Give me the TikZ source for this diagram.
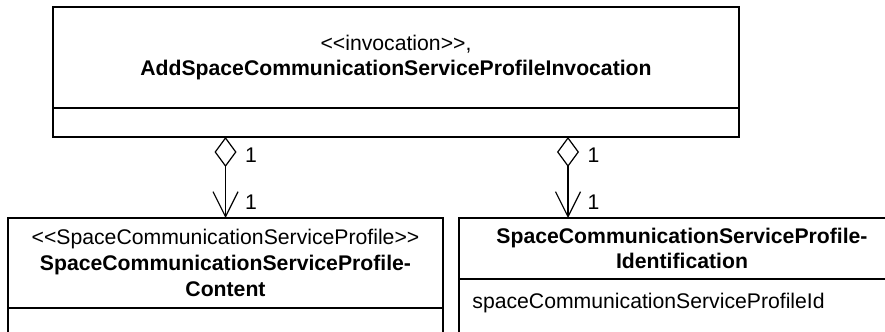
\documentclass[tikz,border=0pt]{standalone}
\usepackage{fontspec}
\setmainfont{Liberation Sans}
\usetikzlibrary{arrows.meta,positioning}
\newcommand{\stereo}[1]{\textless\kern0pt\textless #1\textgreater\kern0pt\textgreater}
\tikzset{
  classbox/.style={draw,line width=0.6pt,outer sep=0pt,inner sep=2pt,align=center,
    font=\fontsize{10.6}{12.8}\selectfont},
  attrtext/.style={inner sep=0pt,font=\fontsize{10.6}{12.8}\selectfont},
  multlabel/.style={inner sep=0pt,font=\fontsize{10.6}{12.8}\selectfont},
  aggregation/.style={line width=0.6pt,
    {Diamond[open,length=15pt,width=11pt,line width=0.6pt]}-{Straight Barb[length=12.5pt,width=12.5pt,line width=0.6pt]}}
}

\begin{document}
\begin{tikzpicture}[x=0.5pt,y=-0.5pt]
  \useasboundingbox (0,0) rectangle (885,332);
  \clip (0,0) rectangle (885,332);
  % invocation class
  \node[classbox,anchor=north west,minimum width=343pt,minimum height=50.5pt] (inv) at (53,7)
    {\stereo{invocation},\\\textbf{AddSpaceCommunicationServiceProfileInvocation}};
  \node[classbox,below=0pt of inv,minimum width=343pt,minimum height=14.5pt] (invattr) {};
  % content class
  \node[classbox,anchor=north west,minimum width=217.5pt,minimum height=45pt] (content) at (8,218)
    {\stereo{SpaceCommunicationServiceProfile}\\\textbf{SpaceCommunicationServiceProfile-}\\\textbf{Content}};
  \node[classbox,below=0pt of content,minimum width=217.5pt,minimum height=30pt] (contentattr) {};
  % identification class
  \node[classbox,anchor=north west,minimum width=223pt,minimum height=30.5pt] (ident) at (459,218)
    {\textbf{SpaceCommunicationServiceProfile-}\\\textbf{Identification}};
  \node[classbox,below=0pt of ident,minimum width=223pt,minimum height=35pt] (identattr) {};
  \node[attrtext,anchor=west] (scspid) at ([xshift=6.5pt,yshift=-12pt]identattr.north west)
    {spaceCommunicationServiceProfileId};
  % aggregations
  \coordinate (identin) at ([xshift=54.5pt]ident.north west);
  \draw[aggregation] (invattr.south -| content.north) -- (content.north)
    node[multlabel,pos=0.22,right=9.5pt] (m1) {1}
    node[multlabel,pos=0.8,right=9.5pt] (m2) {1};
  \draw[aggregation] (invattr.south -| identin) -- (identin)
    node[multlabel,pos=0.22,right=9.5pt] (m3) {1}
    node[multlabel,pos=0.8,right=9.5pt] (m4) {1};
\end{tikzpicture}
\end{document}
